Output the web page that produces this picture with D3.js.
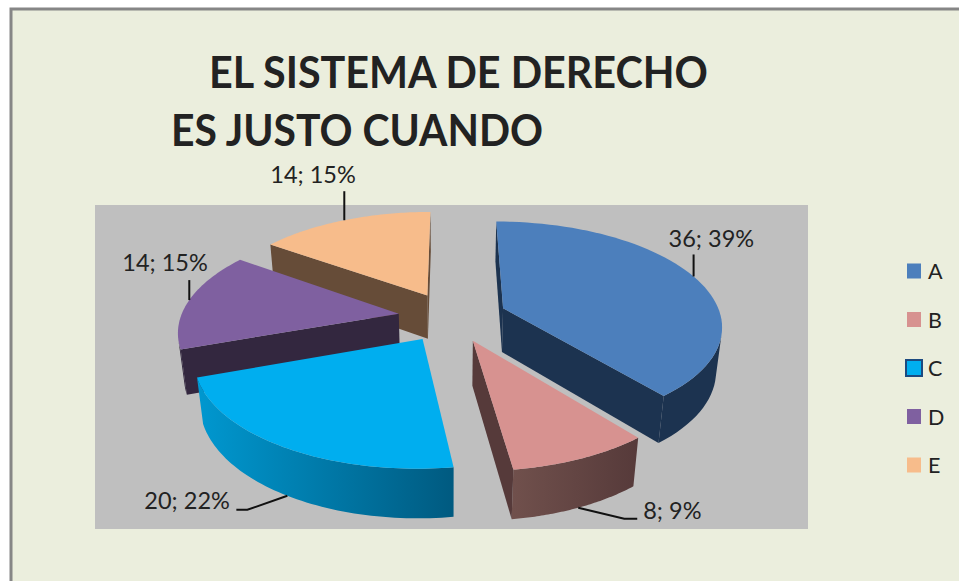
<!DOCTYPE html>
<html>
<head>
<meta charset="utf-8">
<script src="https://cdnjs.cloudflare.com/ajax/libs/d3/7.8.5/d3.min.js"></script>
<style>
html, body { margin: 0; padding: 0; background: #fff; }
svg { display: block; }
text { font-family: Lato, "Open Sans", sans-serif; fill: #222; }
</style>
</head>
<body>
<div id="chart"></div>
<script>
var categories = ['A', 'B', 'C', 'D', 'E'];
var values = [36, 8, 20, 14, 14];
var percents = [39, 9, 22, 15, 15];
var titleLines = ['EL SISTEMA DE DERECHO', 'ES JUSTO CUANDO'];

var topColors = ['#4c7fbc', '#d79290', '#00aeef', '#7f60a0', '#f7bc8b'];
var wallColors = [['#1c3350', '#1c3350'], ['#70504c', '#563a3a'], ['#0098d0', '#005a80'], ['#33273f', '#33273f'], ['#664c38', '#664c38']];

var width = 959, height = 581;
var radius = 218, thickness = 45;
var explode = [56, 53, 53, 53, 53];
var cx = 451, cy = 317, tilt = 0.47, persp = 0.0007, perspZ = 0.0005;

var svg = d3.select('#chart').append('svg').attr('width', width).attr('height', height);
var defs = svg.append('defs');
var line = d3.line();

// ground plane (u right, v back, z down) to screen
function project(u, v, z){
    var w = 1 + persp*v + perspZ*z;
    return [cx + u/w, cy + (-tilt*v + z)/w];
}

function rim(d, a, r, z){
    var mid = (d.startAngle + d.endAngle)/2;
    var u = explode[d.index]*Math.sin(mid) + r*Math.sin(a);
    var v = explode[d.index]*Math.cos(mid) + r*Math.cos(a);
    return project(u, v, z);
}

function area2(pts){
    var s = 0;
    for(var i = 0; i<pts.length; i++){
        var p = pts[i], q = pts[(i+1)%pts.length];
        s += p[0]*q[1] - q[0]*p[1];
    }
    return s;
}

// background and frame
svg.append('rect').attr('x', 10).attr('y', 8).attr('width', width-10).attr('height', height-8).attr('fill', '#ebeedd');
svg.append('path').attr('d', 'M11,581V9H959').attr('fill', 'none').attr('stroke', '#868686').attr('stroke-width', 3);
svg.append('rect').attr('x', 95).attr('y', 205).attr('width', 713).attr('height', 324).attr('fill', '#bfbfbf');

// title
svg.append('text').attr('x', 209).attr('y', 88).attr('font-size', 44).attr('font-weight', 700)
    .attr('textLength', 499).attr('lengthAdjust', 'spacingAndGlyphs').text(titleLines[0]);
svg.append('text').attr('x', 171).attr('y', 146).attr('font-size', 44).attr('font-weight', 700)
    .attr('textLength', 372).attr('lengthAdjust', 'spacingAndGlyphs').text(titleLines[1]);

var arcs = d3.pie().sort(null)(values);
// back to front
var order = [4, 3, 0, 1, 2];

order.forEach(function(i){
    var d = arcs[i];
    var g = svg.append('g');
    var n = 60;
    var angles = d3.range(n+1).map(function(k){ return d.startAngle + (d.endAngle-d.startAngle)*k/n; });

    // outer wall, the part that faces front
    var front = [];
    for(var k = 0; k<n; k++){
        var q = [rim(d, angles[k], radius, 0), rim(d, angles[k+1], radius, 0), rim(d, angles[k+1], radius, thickness), rim(d, angles[k], radius, thickness)];
        if(area2(q) < 0){ front.push(angles[k]); front.push(angles[k+1]); }
    }
    if(front.length){
        var topEdge = front.map(function(a){ return rim(d, a, radius, 0); });
        var botEdge = front.map(function(a){ return rim(d, a, radius, thickness); }).reverse();
        var xs = topEdge.map(function(p){ return p[0]; });
        var grad = defs.append('linearGradient').attr('id', 'wall'+i).attr('gradientUnits', 'userSpaceOnUse')
            .attr('x1', d3.min(xs)).attr('x2', d3.max(xs)).attr('y1', 0).attr('y2', 0);
        grad.append('stop').attr('offset', 0).attr('stop-color', wallColors[i][0]);
        grad.append('stop').attr('offset', 1).attr('stop-color', wallColors[i][1]);
        g.append('path').attr('d', line(topEdge.concat(botEdge))+'Z').attr('fill', 'url(#wall'+i+')');
    }

    // radial walls, only the ones turned to the viewer
    [[d.startAngle, 1], [d.endAngle, -1]].forEach(function(w){
        var poly = [rim(d, 0, 0, 0), rim(d, w[0], radius, 0), rim(d, w[0], radius, thickness), rim(d, 0, 0, thickness)];
        if(area2(poly)*w[1] < 0){
            g.append('path').attr('d', line(poly)+'Z').attr('fill', wallColors[i][1]);
        }
    });

    // top face
    var top = [rim(d, 0, 0, 0)].concat(angles.map(function(a){ return rim(d, a, radius, 0); }));
    g.append('path').attr('d', line(top)+'Z').attr('fill', topColors[i]);
});

// leader lines and labels, from the rim at each slice's mid angle
var leaderBends = [[[0, -22]], [[46, 11], [59, 11]], [[-40, 14], [-51, 14]], [[0, -20]], [[0, -29]]];
var leaderDepth = [0, thickness, thickness, 0, 0];
var labelOffset = [[-25, -29], [65, 11], [-143, 13], [-67, -29], [-74, -37]];

arcs.forEach(function(d, i){
    var mid = (d.startAngle + d.endAngle)/2;
    var p0 = rim(d, mid, radius, leaderDepth[i]);
    var pts = [p0].concat(leaderBends[i].map(function(b){ return [p0[0]+b[0], p0[1]+b[1]]; }));
    svg.append('path').attr('d', line(pts)).attr('fill', 'none').attr('stroke', '#111').attr('stroke-width', 2);
    svg.append('text').attr('x', p0[0]+labelOffset[i][0]).attr('y', p0[1]+labelOffset[i][1])
        .attr('font-size', 23.5)
        .text(values[i]+'; '+percents[i]+'%');
});

// legend
var ly = d3.scalePoint().domain(categories).range([271, 465]);
categories.forEach(function(c, i){
    var y = ly(c);
    if(c == 'C'){
        svg.append('rect').attr('x', 906).attr('y', y-8).attr('width', 16).attr('height', 16)
            .attr('fill', topColors[i]).attr('stroke', '#1c4a80').attr('stroke-width', 2);
    } else {
        svg.append('rect').attr('x', 907).attr('y', y-7.5).attr('width', 14).attr('height', 15).attr('fill', topColors[i]);
    }
    svg.append('text').attr('x', 928).attr('y', y+8).attr('font-size', 21.5).text(c);
});
</script>
</body>
</html>
